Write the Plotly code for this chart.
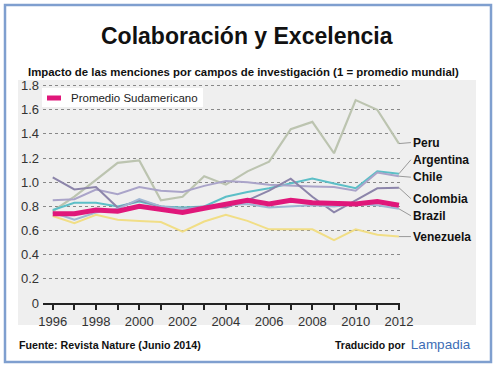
import plotly.graph_objects as go

years = list(range(1996, 2013))
peru =      [0.76, 0.88, 1.02, 1.16, 1.18, 0.85, 0.88, 1.05, 0.98, 1.09, 1.17, 1.44, 1.50, 1.24, 1.68, 1.60, 1.32]
argentina = [0.77, 0.83, 0.83, 0.80, 0.84, 0.80, 0.79, 0.80, 0.88, 0.92, 0.95, 0.99, 1.03, 0.99, 0.95, 1.09, 1.07]
chile =     [0.85, 0.86, 0.94, 0.90, 0.96, 0.93, 0.92, 0.97, 1.01, 1.00, 0.98, 0.97, 0.965, 0.96, 0.93, 1.08, 1.05]
colombia =  [1.04, 0.94, 0.96, 0.79, 0.85, 0.80, 0.78, 0.80, 0.79, 0.85, 0.93, 1.03, 0.88, 0.75, 0.85, 0.95, 0.955]
brazil =    [0.75, 0.69, 0.75, 0.78, 0.86, 0.80, 0.78, 0.79, 0.81, 0.82, 0.79, 0.80, 0.81, 0.80, 0.82, 0.81, 0.78]
venezuela = [0.72, 0.66, 0.73, 0.69, 0.68, 0.67, 0.59, 0.675, 0.73, 0.68, 0.61, 0.61, 0.61, 0.52, 0.61, 0.565, 0.55]
promedio =  [0.74, 0.74, 0.77, 0.76, 0.80, 0.77, 0.75, 0.785, 0.82, 0.85, 0.82, 0.85, 0.83, 0.82, 0.82, 0.84, 0.81]

y_ticks = [0, 0.2, 0.4, 0.6, 0.8, 1.0, 1.2, 1.4, 1.6, 1.8]
y_tick_text = ["0", "0.2", "0.4", "0.6", "0.8", "1.0", "1.2", "1.4", "1.6", "1.8"]
x_tick_text = [str(y) if y % 2 == 0 else "" for y in years]

series = [
    ("Peru", peru, "#bcc4b0", 2.2, -1),
    ("Argentina", argentina, "#5cbfc7", 2.0, -14),
    ("Chile", chile, "#aaa4c9", 2.0, 1),
    ("Colombia", colombia, "#8c85aa", 2.0, 11),
    ("Brazil", brazil, "#9fb7d3", 2.0, 7),
    ("Venezuela", venezuela, "#f1de86", 2.0, 0),
]

fig = go.Figure()
for name, vals, color, w, _ in series:
    fig.add_trace(go.Scatter(x=years, y=vals, mode="lines", name=name,
                             line=dict(color=color, width=w), showlegend=False))
fig.add_trace(go.Scatter(x=years, y=promedio, mode="lines", name="Promedio Sudamericano",
                         line=dict(color="#e0177a", width=5), showlegend=False))

# plot area: x 43..400, y 82..303
L, R, T, B = 43, 400, 82, 303
W, H = R - L, B - T
def px(x): return (x - L) / W
def py(y): return (B - y) / H

shapes = [
    dict(type="rect", xref="paper", yref="paper", x0=px(18), x1=px(476), y0=py(325), y1=py(80),
         fillcolor="#efefef", line=dict(width=0), layer="below"),
    dict(type="rect", xref="paper", yref="paper", x0=px(5), x1=px(491), y0=py(362), y1=py(5),
         fillcolor="rgba(0,0,0,0)", line=dict(color="#7f9fcf", width=2.5), layer="below"),
    dict(type="rect", xref="paper", yref="paper", x0=px(42), x1=px(203), y0=py(107), y1=py(88),
         fillcolor="white", line=dict(width=0), layer="above"),
    dict(type="line", xref="paper", yref="paper", x0=px(47), x1=px(61), y0=py(98), y1=py(98),
         line=dict(color="#e0177a", width=5), layer="above"),
]

annotations = [
    dict(text="<b>Colaboración y Excelencia</b>", x=px(247), y=py(36), xref="paper", yref="paper",
         showarrow=False, xanchor="center", yanchor="middle",
         font=dict(size=23, color="#111", family="Liberation Sans, Arial")),
    dict(text="<b>Impacto de las menciones por campos de investigación (1 = promedio mundial)</b>",
         x=px(26), y=py(72), xref="paper", yref="paper", showarrow=False, xanchor="left", yanchor="middle",
         font=dict(size=11.4, color="#111", family="Liberation Sans, Arial")),
    dict(text="Promedio Sudamericano", x=px(69), y=py(98), xref="paper", yref="paper",
         showarrow=False, xanchor="left", yanchor="middle",
         font=dict(size=11.5, color="#222", family="Liberation Sans, Arial")),
    dict(text="<b>Fuente: Revista Nature (Junio 2014)</b>", x=px(17), y=py(345), xref="paper", yref="paper",
         showarrow=False, xanchor="left", yanchor="middle",
         font=dict(size=10.7, color="#111", family="Liberation Sans, Arial")),
    dict(text="<b>Traducido por</b>  <span style='color:#3d6db5;font-size:13.5px'>Lampadia</span>",
         x=px(473), y=py(344), xref="paper", yref="paper",
         showarrow=False, xanchor="right", yanchor="middle",
         font=dict(size=10.5, color="#111", family="Liberation Sans, Arial")),
]
for name, vals, color, w, dy in series:
    annotations.append(dict(text="<b>%s</b>" % name, x=years[-1], y=vals[-1], xref="x", yref="y",
                            showarrow=True, arrowhead=0, arrowwidth=1, arrowcolor="#999",
                            ax=12, ay=dy, xanchor="left", yanchor="middle",
                            font=dict(size=12, color="#111", family="Liberation Sans, Arial")))

fig.update_layout(
    width=495, height=365,
    margin=dict(l=L, r=495 - R, t=T, b=365 - B),
    paper_bgcolor="white", plot_bgcolor="rgba(0,0,0,0)",
    shapes=shapes, annotations=annotations,
    font=dict(family="Liberation Sans, Arial", color="#333"),
)
fig.update_xaxes(range=[1995.55, 2012.05], tickvals=years, ticktext=x_tick_text,
                 showgrid=False, zeroline=False, showline=True, linecolor="#222", linewidth=2,
                 ticks="outside", ticklen=5, tickwidth=1.5, tickcolor="#222",
                 tickfont=dict(size=13, color="#333"))
fig.update_yaxes(range=[0, 1.83], tickvals=y_ticks, ticktext=y_tick_text,
                 showgrid=True, gridcolor="#888", gridwidth=1.2, griddash="dot",
                 zeroline=False, showline=False, ticks="", ticklabelstandoff=3,
                 tickfont=dict(size=13, color="#333"))

fig.write_html("out.html", config={"displayModeBar": False},
               post_script="document.body.style.margin='0px';")
